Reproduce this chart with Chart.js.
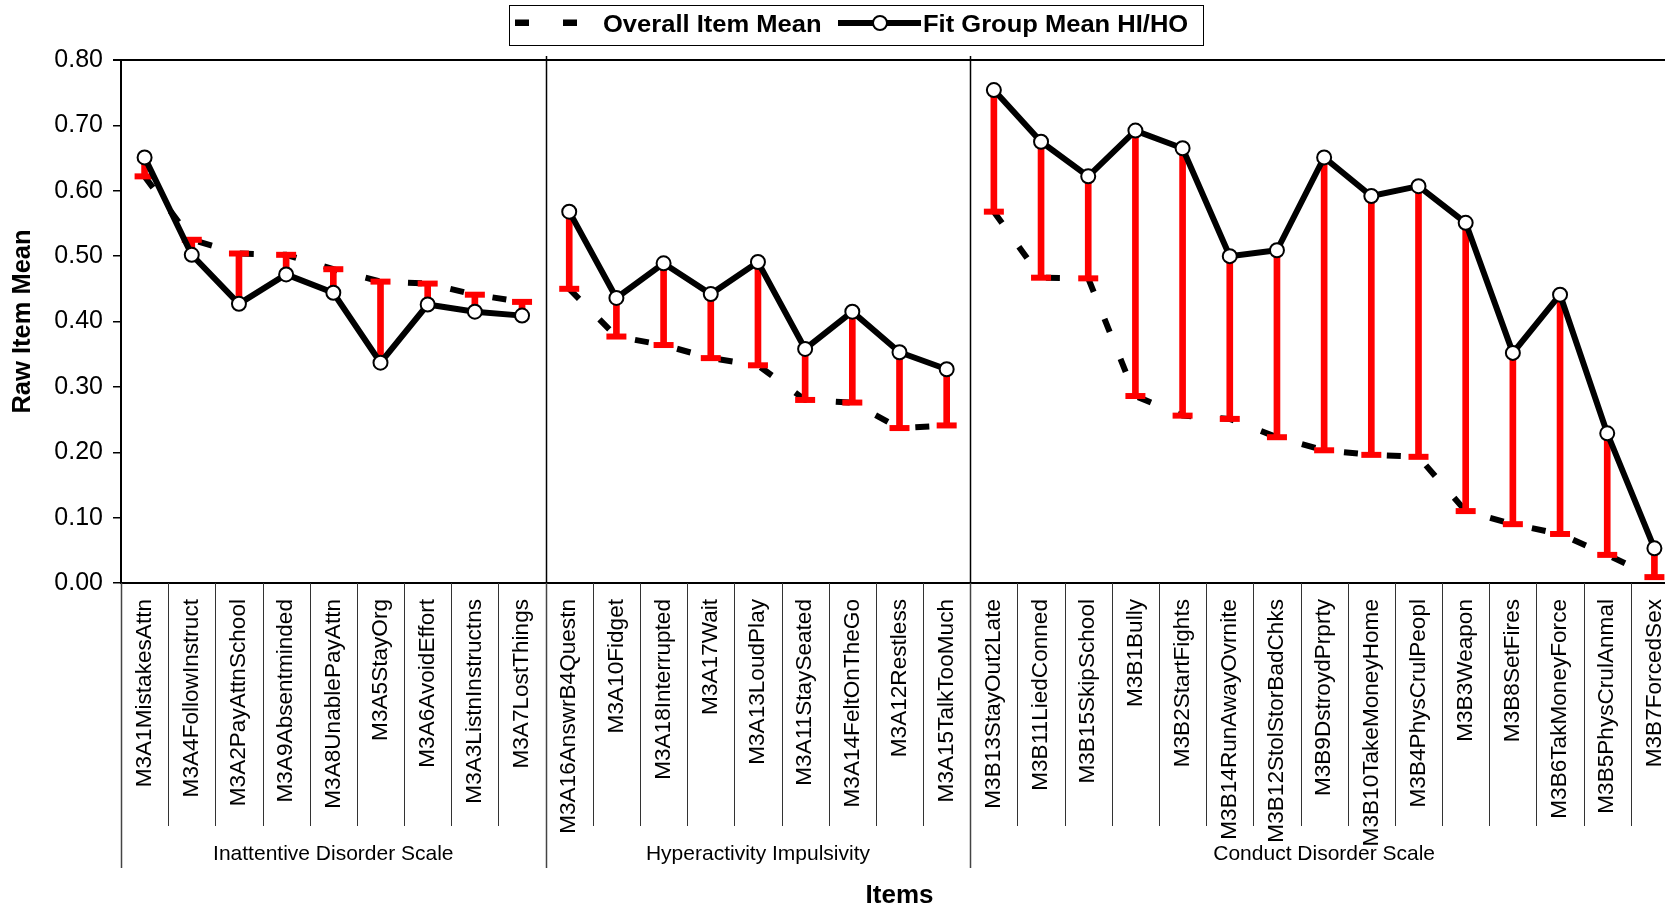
<!DOCTYPE html>
<html>
<head>
<meta charset="utf-8">
<script src="https://cdn.jsdelivr.net/npm/chart.js@4.4.0/dist/chart.umd.min.js"></script>
<style>
    html, body { margin: 0; padding: 0; background: #fff; overflow: hidden; }
    #wrap { width: 1694px; height: 907px; }
</style>
</head>
<body>
<div id="wrap"><canvas id="itemChart" width="1694" height="907"></canvas></div>
<script>
// Item labels, in the order they appear on the x axis
const ITEMS = [
    'M3A1MistakesAttn', 'M3A4FollowInstruct', 'M3A2PayAttnSchool', 'M3A9Absentminded', 'M3A8UnablePayAttn',
    'M3A5StayOrg', 'M3A6AvoidEffort', 'M3A3ListnInstructns', 'M3A7LostThings',
    'M3A16AnswrB4Questn', 'M3A10Fidget', 'M3A18Interrupted', 'M3A17Wait', 'M3A13LoudPlay',
    'M3A11StaySeated', 'M3A14FeltOnTheGo', 'M3A12Restless', 'M3A15TalkTooMuch',
    'M3B13StayOut2Late', 'M3B11LiedConned', 'M3B15SkipSchool', 'M3B1Bully', 'M3B2StartFights',
    'M3B14RunAwayOvrnite', 'M3B12StolStorBadChks', 'M3B9DstroydPrprty', 'M3B10TakeMoneyHome',
    'M3B4PhysCrulPeopl', 'M3B3Weapon', 'M3B8SetFires', 'M3B6TakMoneyForce', 'M3B5PhysCrulAnmal', 'M3B7ForcedSex'
];

// Scale groups (second level of the category axis)
const GROUP_NAMES = ['Inattentive Disorder Scale', 'Hyperactivity Impulsivity', 'Conduct Disorder Scale'];
const GROUP_SIZES = [9, 9, 15];

// Overall Item Mean (dashed line, red bar end)
const OVERALL_MEAN = [
    0.622, 0.525, 0.504, 0.502, 0.480, 0.461, 0.458, 0.441, 0.430,
    0.450, 0.377, 0.364, 0.344, 0.333, 0.280, 0.276, 0.237, 0.241,
    0.568, 0.467, 0.466, 0.286, 0.256, 0.251, 0.223, 0.203, 0.196, 0.193, 0.110, 0.090, 0.075, 0.043, 0.009
];

// Fit Group Mean HI/HO (solid line with circles)
const FIT_GROUP_MEAN = [
    0.651, 0.502, 0.427, 0.472, 0.444, 0.337, 0.426, 0.415, 0.409,
    0.568, 0.436, 0.489, 0.442, 0.491, 0.358, 0.415, 0.353, 0.327,
    0.754, 0.675, 0.622, 0.692, 0.665, 0.500, 0.509, 0.651, 0.592, 0.607, 0.551, 0.352, 0.441, 0.229, 0.053
];

const Y_MIN = 0;
const Y_MAX = 0.8;
const Y_STEP = 0.1;

const FONT = '"Liberation Sans", Arial, sans-serif';
Chart.defaults.font.family = FONT;
Chart.defaults.color = '#000';

// Indices after which a group ends: the lines are not joined across groups
const groupEnds = [];
GROUP_SIZES.reduce((acc, n) => { groupEnds.push(acc + n - 1); return acc + n; }, 0);
const breakSegment = ctx => groupEnds.includes(ctx.p0DataIndex) ? 'rgba(0,0,0,0)' : undefined;

// Red bars from the overall mean to the fit group mean
const diffBars = OVERALL_MEAN.map((v, i) => [v, FIT_GROUP_MEAN[i]]);

/**
 * Draws plot frame, group separators, the lower axis dividers, group names and the legend box.
 */
const frameAndGroups = {
    id: 'frameAndGroups',
    beforeDatasetsDraw(chart) {
        const { ctx, chartArea } = chart;
        const xs = chart.scales.x;
        const catW = xs.width / ITEMS.length;
        ctx.save();
        ctx.strokeStyle = '#000';
        // top border
        ctx.lineWidth = 2;
        ctx.beginPath();
        ctx.moveTo(chartArea.left - 8, chartArea.top);
        ctx.lineTo(chartArea.right, chartArea.top);
        ctx.stroke();
        // group separators inside the plot
        ctx.lineWidth = 1.5;
        let idx = 0;
        GROUP_SIZES.slice(0, -1).forEach(n => {
            idx += n;
            const x = Math.round(xs.left + idx * catW) + 0.5;
            ctx.beginPath();
            ctx.moveTo(x, chartArea.top - 4);
            ctx.lineTo(x, chartArea.bottom);
            ctx.stroke();
        });
        ctx.restore();
    },
    afterDraw(chart) {
        const { ctx, chartArea } = chart;
        const xs = chart.scales.x;
        const catW = xs.width / ITEMS.length;
        const bounds = [0];
        GROUP_SIZES.reduce((acc, n) => { bounds.push(acc + n); return acc + n; }, 0);

        ctx.save();
        // item dividers under the axis
        ctx.strokeStyle = '#333';
        ctx.lineWidth = 1;
        for (let i = 1; i < ITEMS.length; i++) {
            if (bounds.includes(i)) continue;
            const x = Math.round(xs.left + i * catW) + 0.5;
            ctx.beginPath();
            ctx.moveTo(x, chartArea.bottom);
            ctx.lineTo(x, 826);
            ctx.stroke();
        }
        // group dividers go lower
        ctx.strokeStyle = '#444';
        ctx.lineWidth = 1.5;
        bounds.forEach(b => {
            const x = Math.round(xs.left + b * catW) + 0.5;
            ctx.beginPath();
            ctx.moveTo(x, chartArea.bottom);
            ctx.lineTo(x, 868);
            ctx.stroke();
        });
        // group names
        ctx.fillStyle = '#000';
        ctx.font = '21px ' + FONT;
        ctx.textAlign = 'center';
        ctx.textBaseline = 'middle';
        GROUP_NAMES.forEach((name, g) => {
            const mid = xs.left + (bounds[g] + bounds[g + 1]) / 2 * catW;
            ctx.fillText(name, mid, 854);
        });

        // legend
        ctx.fillStyle = '#fff';
        ctx.fillRect(509.5, 5.5, 694, 40);
        ctx.strokeStyle = '#000';
        ctx.lineWidth = 1;
        ctx.strokeRect(509.5, 5.5, 694, 40);
        ctx.fillStyle = '#000';
        ctx.fillRect(515, 19.5, 14, 6.5);
        ctx.fillRect(563, 19.5, 14, 6.5);
        ctx.lineWidth = 6;
        ctx.beginPath();
        ctx.moveTo(838, 23);
        ctx.lineTo(921, 23);
        ctx.stroke();
        ctx.beginPath();
        ctx.arc(880, 23, 7, 0, Math.PI * 2);
        ctx.fillStyle = '#fff';
        ctx.fill();
        ctx.lineWidth = 2;
        ctx.stroke();
        ctx.fillStyle = '#000';
        ctx.font = 'bold 23px ' + FONT;
        ctx.textAlign = 'left';
        [['Overall Item Mean', 603], ['Fit Group Mean HI/HO', 923]].forEach(([t, x]) => {
            ctx.save();
            ctx.translate(x, 26);
            ctx.scale(1.11, 1);
            ctx.fillText(t, 0, 0);
            ctx.restore();
        });
        ctx.restore();
    }
};

const ctx = document.getElementById('itemChart').getContext('2d');
new Chart(ctx, {
    type: 'line',
    data: {
        labels: ITEMS,
        datasets: [
            {
                label: 'Overall Item Mean',
                data: OVERALL_MEAN,
                borderColor: '#000',
                borderWidth: 6,
                borderDash: [14, 29],
                pointRadius: 0,
                tension: 0,
                order: 4,
                segment: { borderColor: breakSegment }
            },
            {
                type: 'bar',
                label: 'diff',
                data: diffBars,
                backgroundColor: '#ff0000',
                borderWidth: 0,
                barThickness: 6,
                order: 3
            },
            {
                label: 'cap',
                data: OVERALL_MEAN,
                showLine: false,
                pointStyle: 'line',
                pointRadius: 10,
                pointHoverRadius: 10,
                pointBorderWidth: 6,
                pointBorderColor: '#ff0000',
                order: 2
            },
            {
                label: 'Fit Group Mean HI/HO',
                data: FIT_GROUP_MEAN,
                borderColor: '#000',
                borderWidth: 6,
                pointRadius: 7,
                pointHoverRadius: 7,
                pointBorderWidth: 2,
                pointBorderColor: '#000',
                pointBackgroundColor: '#fff',
                tension: 0,
                order: 1,
                segment: { borderColor: breakSegment }
            }
        ]
    },
    options: {
        responsive: false,
        animation: false,
        layout: { padding: { top: 60, right: 12, bottom: 0, left: 0 } },
        plugins: {
            legend: { display: false },
            tooltip: { enabled: false }
        },
        scales: {
            x: {
                offset: true,
                grid: { display: false, drawTicks: false, offset: true },
                border: { display: true, color: '#000', width: 2 },
                ticks: {
                    autoSkip: false,
                    maxRotation: 90,
                    minRotation: 90,
                    padding: 16,
                    color: '#000',
                    font: { size: 22.6 }
                },
                title: {
                    display: true,
                    text: 'Items',
                    color: '#000',
                    font: { size: 26, weight: 'bold', lineHeight: 1 },
                    padding: { top: 0, bottom: -2 }
                },
                afterFit: s => {
                    s.height = 324;
                    s.paddingLeft = 0;
                    s.paddingRight = 0;
                }
            },
            y: {
                min: Y_MIN,
                max: Y_MAX,
                grid: { display: true, drawOnChartArea: false, drawTicks: true, tickLength: 8, color: '#000', lineWidth: 1.5 },
                border: { display: true, color: '#000', width: 2 },
                ticks: {
                    stepSize: Y_STEP,
                    padding: 10,
                    color: '#000',
                    font: { size: 25 },
                    callback: v => Number(v).toFixed(2)
                },
                title: {
                    display: true,
                    text: 'Raw Item Mean',
                    color: '#000',
                    font: { size: 25.5, weight: 'bold', lineHeight: 1 },
                    padding: { top: 10.5, bottom: 0 }
                },
                afterFit: s => { s.width = 121; }
            }
        }
    },
    plugins: [frameAndGroups]
});
</script>
</body>
</html>
